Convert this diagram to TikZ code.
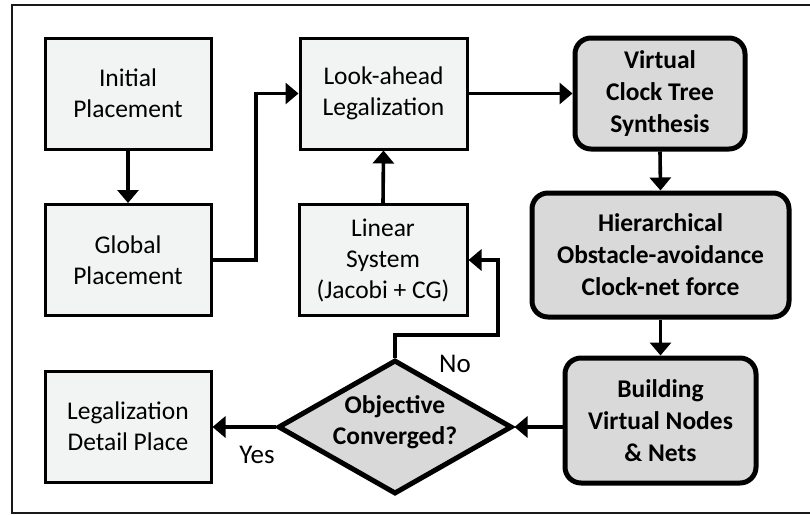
\documentclass[tikz,border=0pt]{standalone}
\usepackage{fontspec}
\setmainfont{Carlito}
\usetikzlibrary{shapes.geometric,arrows.meta}
\definecolor{lightfill}{HTML}{F2F3F3}
\definecolor{darkfill}{HTML}{D9D9D9}
\begin{document}
\begin{tikzpicture}[x=1pt,y=-1pt,
  every node/.style={font=\fontsize{25.5}{31}\selectfont, align=center},
  plainbox/.style={draw, line width=3pt, fill=lightfill, minimum width=166pt, minimum height=111pt, inner sep=0pt},
  boldbox/.style={draw, line width=5pt, fill=darkfill, rounded corners=16pt, inner sep=0pt,
    font=\fontsize{25.5}{32}\selectfont\bfseries},
  decision/.style={draw, line width=5pt, fill=darkfill, shape=diamond, aspect=1.75, inner sep=0pt,
    minimum width=234pt, minimum height=134pt},
  arr/.style={line width=3.6pt, -{Triangle[length=13pt,width=21pt]}},
  lbl/.style={font=\fontsize{27}{31}\selectfont}]
\useasboundingbox (0,0) rectangle (810,514);
% outer frame (right side runs past the page edge)
\draw[line width=2.8pt, draw=black!90] (12,5) rectangle (830,513);

% process boxes
\node[plainbox] (init)   at (128,93.5)  {Initial\\Placement};
\node[plainbox] (glob)   at (128,260)   {Global\\Placement};
\node[plainbox] (legal)  at (128,426.5) {Legalization\\Detail Place};
\node[plainbox, minimum width=167pt] (look)   at (383.5,93.5) {Look-ahead\\Legalization};
\node[plainbox, minimum width=168pt] (linsys) at (383,260)    {Linear\\System\\(Jacobi + CG)};

% clock-aware steps
\node[boldbox, minimum width=170pt, minimum height=111pt] (vcts)  at (660,93.5)  {Virtual\\Clock Tree\\Synthesis};
\node[boldbox, minimum width=257pt, minimum height=124pt] (hier)  at (660.5,255) {Hierarchical\\Obstacle-avoidance\\Clock-net force};
\node[boldbox, minimum width=191pt, minimum height=125pt] (build) at (660.5,420.5) {Building\\Virtual Nodes\\\& Nets};

% convergence test
\node[decision] (conv) at (395,427) {};
\node[font=\fontsize{25.5}{31}\selectfont\bfseries] (convtext) at (395,422) {Objective\\Converged?};

% bend points
\coordinate (j1) at (256,0);
\coordinate (j2) at (498,335);

% connectors
\draw[arr] (init.south) -- (glob.north);
\draw[arr] (glob.east) -- (glob.east -| j1) -- (look.west -| j1) -- (look.west);
\draw[arr] (linsys.north) -- (look.south);
\draw[arr] (look.east) -- (vcts.west);
\draw[arr] (vcts.south) -- (hier.north);
\draw[arr] (hier.south) -- (build.north);
\draw[arr] (conv.east -| build.west) -- (conv.east);
\draw[arr] (conv.west) -- (conv.west -| legal.east);
\draw[arr] (conv.north) -- (conv.north |- j2) -- (j2) -- (linsys.east -| j2) -- (linsys.east);

% branch labels
\node[lbl] (yes) at (257,455) {Yes};
\node[lbl] (no)  at (455,364) {No};
\end{tikzpicture}
\end{document}
